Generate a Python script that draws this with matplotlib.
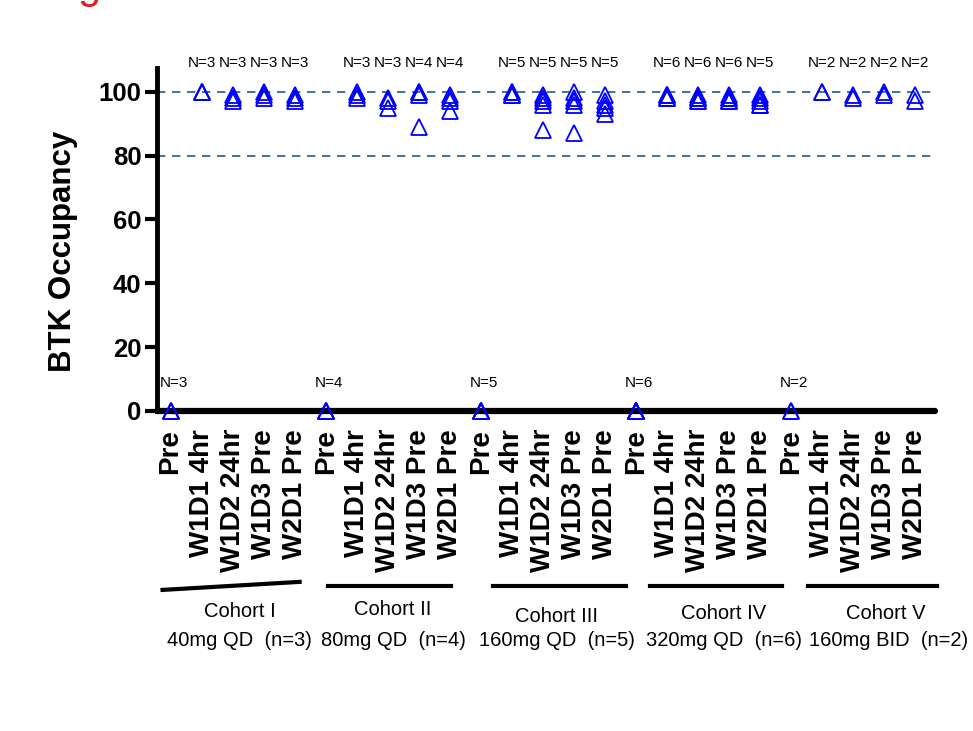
import matplotlib
matplotlib.use("Agg")
import matplotlib.pyplot as plt
import matplotlib.transforms as mtransforms

plt.rcParams['font.family'] = ['Liberation Sans', 'DejaVu Sans']

# time points (same for every cohort)
timepoints = ["Pre", "W1D1 4hr", "W1D2 24hr", "W1D3 Pre", "W2D1 Pre"]
cohorts = ["Cohort I", "Cohort II", "Cohort III", "Cohort IV", "Cohort V"]
doses = ["40mg QD  (n=3)", "80mg QD  (n=4)", "160mg QD  (n=5)", "320mg QD  (n=6)", "160mg BID  (n=2)"]

# BTK occupancy per cohort, per time point
cohort1 = [[0, 0, 0],
           [100, 100, 100],
           [99, 98, 97],
           [100, 99, 98],
           [99, 98, 97]]
cohort2 = [[0, 0, 0, 0],
           [100, 99, 98],
           [98, 97, 95],
           [100, 100, 99, 89],
           [99, 98, 97, 94]]
cohort3 = [[0, 0, 0, 0, 0],
           [100, 100, 99, 99, 99],
           [99, 98, 97, 96, 88],
           [100, 98, 97, 96, 87],
           [99, 97, 96, 95, 93]]
cohort4 = [[0, 0, 0, 0, 0, 0],
           [99, 99, 99, 98, 98, 98],
           [99, 98, 98, 98, 97, 97],
           [99, 98, 98, 97, 97, 97],
           [99, 98, 97, 96, 96]]
cohort5 = [[0, 0],
           [100, 100],
           [99, 98],
           [100, 99],
           [99, 97]]
all_data = [cohort1, cohort2, cohort3, cohort4, cohort5]

# N shown above each time point
n_top = [[3, 3, 3, 3], [3, 3, 4, 4], [5, 5, 5, 5], [6, 6, 6, 5], [2, 2, 2, 2]]
n_pre = [3, 4, 5, 6, 2]

fig = plt.figure(figsize=(9.73, 7.31), dpi=100)
ax = fig.add_axes([0.161, 0.438, 0.800, 0.469])

labels = []
for g, data in enumerate(all_data):
    for t, vals in enumerate(data):
        x = g * 5 + t
        ax.plot([x] * len(vals), vals, linestyle="none", marker="^",
                markersize=12, markerfacecolor="none", markeredgecolor="#0000ff",
                markeredgewidth=1.3, clip_on=False, zorder=5)
        labels.append(timepoints[t])
        if t == 0:
            ax.text(x + 0.1, 8.8, "N=%d" % n_pre[g], ha="center", va="center", fontsize=11)
        else:
            ax.text(x, 109, "N=%d" % n_top[g][t - 1], ha="center", va="center", fontsize=11)

# reference lines
ax.axhline(100, color="#1f5a8c", linestyle=(0, (5, 4)), linewidth=1.2, zorder=1)
ax.axhline(80, color="#1f5a8c", linestyle=(0, (5, 4)), linewidth=1.2, zorder=1)

ax.set_xlim(-0.45, 24.65)
ax.set_ylim(0, 107.5)
ax.set_yticks([0, 20, 40, 60, 80, 100])
ax.set_xticks(range(len(labels)))
ax.set_xticklabels(labels, rotation=90, fontsize=20, fontweight="bold", va="top")
ax.tick_params(axis="x", length=0, pad=13)
ax.tick_params(axis="y", length=9, width=3, labelsize=18.5, pad=2)
for lab in ax.get_yticklabels():
    lab.set_fontweight("bold")

ax.spines["top"].set_visible(False)
ax.spines["right"].set_visible(False)
ax.spines["left"].set_linewidth(3.5)
ax.spines["bottom"].set_linewidth(4.5)
ax.spines["bottom"].set_capstyle("round")

ax.set_ylabel("BTK Occupancy", fontsize=22.5, fontweight="bold")
ax.yaxis.set_label_coords(-0.1015, 0.466)

# cohort brackets and names under the tick labels
line_x = [(-0.26, 4.16), (5.06, 9.03), (10.39, 14.68), (15.45, 19.71), (20.55, 24.71)]
name_x = [2.23, 7.16, 12.45, 17.84, 23.05]
dose_x = [2.23, 7.2, 12.45, 17.84, 23.15]
name_y = [0.163, 0.166, 0.157, 0.161, 0.161]

trans = mtransforms.blended_transform_factory(ax.transData, fig.transFigure)
for g in range(5):
    x0, x1 = line_x[g]
    if g == 0:
        ax.plot([x0, x1], [0.193, 0.204], color="black", linewidth=3,
                transform=trans, clip_on=False)
    else:
        ax.plot([x0, x1], [0.199, 0.199], color="black", linewidth=3,
                transform=trans, clip_on=False)
    ax.text(name_x[g], name_y[g], cohorts[g], ha="center", va="center", fontsize=14.5,
            transform=trans)
    ax.text(dose_x[g], 0.124, doses[g], ha="center", va="center",
            fontsize=14.5, transform=trans)

# red heading, cut off at the top edge
fig.text(0.091, 1.003, "g", color="#e02020", fontsize=30, ha="center", va="baseline")

fig.savefig("out.png", dpi=100)
